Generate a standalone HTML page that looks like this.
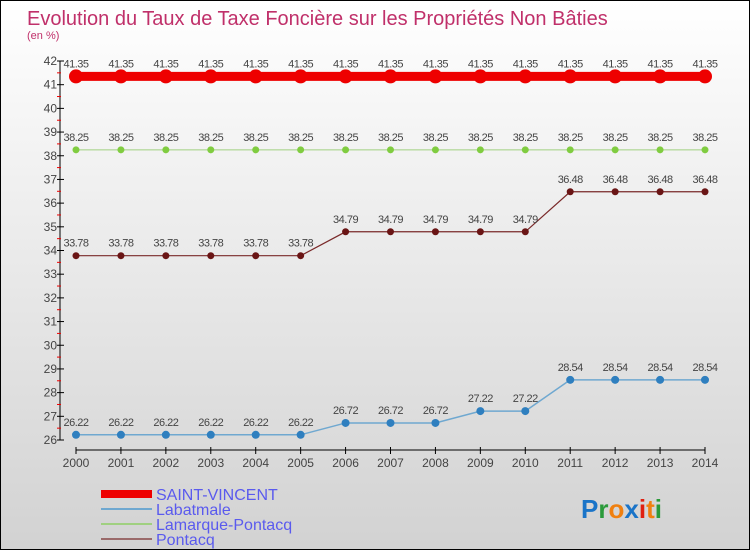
<!DOCTYPE html>
<html><head><meta charset="utf-8"><style>
body{margin:0}
#c{width:748px;height:548px;border:1px solid #000;background:linear-gradient(#fff,#d2d2d2);position:relative;overflow:hidden;font-family:"Liberation Sans",sans-serif}
</style></head><body>
<div id="c">
<svg id="s" width="748" height="548" style="position:absolute;left:0;top:0">
<text x="26" y="24" font-size="20" fill="#c0306a">Evolution du Taux de Taxe Foncière sur les Propriétés Non Bâties</text>
<text x="26" y="38" font-size="11" fill="#c0306a">(en %)</text>
<g id="g"></g>
<text x="580" y="517" font-size="26" font-weight="bold"><tspan fill="#1a74c8">P</tspan><tspan fill="#2a9a3a">r</tspan><tspan fill="#f08010">o</tspan><tspan fill="#1a74c8">x</tspan><tspan fill="#e02010">i</tspan><tspan fill="#f08010">t</tspan><tspan fill="#2a9a3a">i</tspan></text>
</svg>
</div>
<script>
const years=[2000,2001,2002,2003,2004,2005,2006,2007,2008,2009,2010,2011,2012,2013,2014];
const saintVincent=[41.35,41.35,41.35,41.35,41.35,41.35,41.35,41.35,41.35,41.35,41.35,41.35,41.35,41.35,41.35];
const labatmale=[26.22,26.22,26.22,26.22,26.22,26.22,26.72,26.72,26.72,27.22,27.22,28.54,28.54,28.54,28.54];
const lamarque=[38.25,38.25,38.25,38.25,38.25,38.25,38.25,38.25,38.25,38.25,38.25,38.25,38.25,38.25,38.25];
const pontacq=[33.78,33.78,33.78,33.78,33.78,33.78,34.79,34.79,34.79,34.79,34.79,36.48,36.48,36.48,36.48];
const yTicks=[26,27,28,29,30,31,32,33,34,35,36,37,38,39,40,41,42];
const NS="http://www.w3.org/2000/svg",g=document.getElementById('g');
const X=i=>75+i*(704-75)/(years.length-1);
const Y=v=>439-(v-26)*(439-60)/16;
function mk(t,a,p){const e=document.createElementNS(NS,t);for(const k in a)e.setAttribute(k,a[k]);(p||g).appendChild(e);return e;}
let e;
e=mk('line',{x1:59,y1:Y(42),x2:59,y2:Y(26),stroke:'#000'});


e=mk('line',{x1:75,y1:449,x2:704,y2:449,stroke:'#000'});


yTicks.forEach(v=>{
 mk('line',{x1:56,y1:Y(v),x2:63,y2:Y(v),stroke:'#000'});
 if(v<42)mk('line',{x1:56,y1:Y(v+0.5),x2:60,y2:Y(v+0.5),stroke:'#e00'});
 const t=mk('text',{x:56,y:Y(v)+4,'font-size':12,'text-anchor':'end',fill:'#444'});t.textContent=v;
 
 
});
years.forEach((y,i)=>{
 mk('line',{x1:X(i),y1:446,x2:X(i),y2:453,stroke:'#000'});
 const t=mk('text',{x:X(i),y:466,'font-size':12,'text-anchor':'middle',fill:'#444'});t.textContent=y;
 
 
});
function series(vals,col,w,r,dot,name){
 const p=mk('polyline',{points:vals.map((v,i)=>X(i)+','+Y(v)).join(' '),fill:'none',stroke:col,'stroke-width':w});
 
 
 vals.forEach((v,i)=>{
  const c=mk('circle',{cx:X(i),cy:Y(v),r:r,fill:dot});
  
  
  const t=mk('text',{x:X(i),y:Y(v)-9,'font-size':11,'text-anchor':'middle',fill:'#444','letter-spacing':'-0.5'});t.textContent=v.toFixed(2);
  
  
 });
}
series(labatmale,'#6fa8d0',1.5,4,'#2f7fbf','labatmale');
series(lamarque,'#a0d080',1,3.5,'#80cc40','lamarque-pontacq');
series(pontacq,'#7a2a2a',1.2,3.5,'#6a1515','pontacq');
series(saintVincent,'#ee0000',9,7,'#ee0000','saint-vincent');
const leg=[['SAINT-VINCENT','#ee0000',8],['Labatmale','#6fa8d0',2],['Lamarque-Pontacq','#a0d080',2],['Pontacq','#9a6a6a',2]];
leg.forEach((l,i)=>{
 const y=493+i*15;
 mk('line',{x1:100,y1:y,x2:151,y2:y,stroke:l[1],'stroke-width':l[2]});
 const t=mk('text',{x:155,y:y+6,'font-size':16,fill:'#5a5aee'});t.textContent=l[0];
 
 
});
</script>
</body></html>
